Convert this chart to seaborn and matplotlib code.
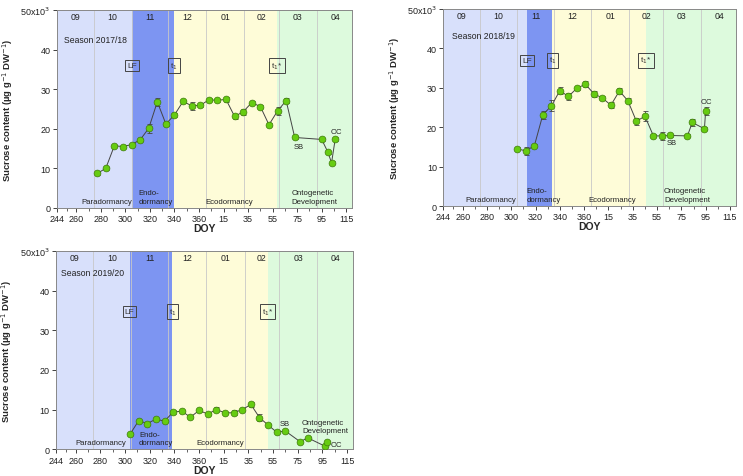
import numpy as np
import pandas as pd
import matplotlib
matplotlib.use('Agg')
import matplotlib.pyplot as plt
import seaborn as sns

sns.set_style('ticks')
plt.rcParams['font.family'] = ['Liberation Sans', 'DejaVu Sans']

# day axis runs on from DOY 365 into the next year (DOY 15 -> 380)
tick_pos = [244, 260, 280, 300, 320, 340, 360, 380, 400, 420, 440, 460, 480]
tick_lab = ['244', '260', '280', '300', '320', '340', '360', '15', '35', '55', '75', '95', '115']
month_start = [244, 274, 305, 335, 366, 397, 425, 456, 486]
month_lab = ['09', '10', '11', '12', '01', '02', '03', '04']

# season 2017/18
doy_1718 = [277, 284, 291, 298, 305, 312, 319, 326, 333, 340, 347, 354, 361, 368, 375, 382,
            389, 396, 403, 410, 417, 424, 431, 438, 460, 465, 468, 471]
suc_1718 = [8.7, 10.0, 15.7, 15.5, 16.0, 17.2, 20.1, 26.8, 21.2, 23.5, 26.9, 25.8, 25.9, 27.3,
            27.2, 27.4, 23.1, 24.3, 26.6, 25.6, 21.0, 24.5, 27.1, 17.8, 17.3, 14.1, 11.4, 17.4]
err_1718 = [0.3, 0.3, 0.3, 0.3, 0.3, 0.3, 1.2, 1.0, 0.4, 0.6, 0.4, 1.0, 0.4, 0.4, 0.4, 0.6,
            0.6, 0.8, 0.4, 0.4, 0.4, 1.0, 0.7, 0.4, 0.4, 0.4, 0.4, 0.4]
phase_1718 = [244, 305.5, 339.5, 423.5, 485]

# season 2018/19
doy_1819 = [305, 312, 319, 326, 333, 340, 347, 354, 361, 368, 375, 382, 389, 396, 403, 410,
            417, 424, 431, 445, 449, 459, 460]
suc_1819 = [14.5, 14.0, 15.3, 23.2, 25.4, 29.3, 27.8, 29.9, 30.9, 28.5, 27.4, 25.6, 29.2,
            26.7, 21.5, 22.8, 17.8, 17.8, 17.9, 17.8, 21.2, 19.6, 24.2]
err_1819 = [0.4, 1.0, 0.4, 1.0, 1.4, 0.8, 1.0, 0.5, 0.8, 0.8, 0.4, 0.8, 0.8, 0.6, 0.9, 1.3,
            0.4, 1.0, 0.4, 0.4, 0.8, 0.4, 1.0]
phase_1819 = [244, 312.8, 333.4, 411, 485]

# season 2019/20
doy_1920 = [304, 311, 318, 325, 332, 339, 346, 353, 360, 367, 374, 381, 388, 395, 402, 409,
            416, 423, 430, 442, 448, 462, 464]
suc_1920 = [3.8, 7.2, 6.5, 7.6, 7.1, 9.4, 9.6, 8.1, 9.8, 8.9, 10.0, 9.2, 9.2, 10.0, 11.3,
            8.0, 6.1, 4.3, 4.6, 1.9, 2.9, 0.8, 1.8]
err_1920 = [0.3, 0.3, 0.3, 0.3, 0.3, 0.4, 0.3, 0.3, 0.3, 0.3, 0.6, 0.3, 0.6, 0.3, 0.6,
            0.8, 0.3, 0.3, 0.3, 0.3, 0.3, 0.3, 0.3]
phase_1920 = [244, 303.7, 338.4, 415.5, 485]

phase_col = ['#d8e0fb', '#7d95f2', '#fefcd8', '#ddfadd']


def draw(ax, doy, suc, err, phase, season, txt):
    for i in range(4):
        ax.axvspan(phase[i], phase[i + 1], color=phase_col[i], lw=0, zorder=0)
    for m in month_start[1:-1]:
        ax.axvline(m, color='#c8c8c8', lw=0.6, zorder=0.5)
    for i, lab in enumerate(month_lab):
        ax.text((month_start[i] + month_start[i + 1]) / 2, 48.3, lab, ha='center', va='center',
                fontsize=6.3, color='#222222')
    df = pd.DataFrame({'doy': doy, 'suc': suc})
    ax.errorbar(doy, suc, yerr=err, fmt='none', ecolor='#444444', elinewidth=0.6, capsize=1.8,
                capthick=0.6, zorder=2)
    sns.lineplot(data=df, x='doy', y='suc', ax=ax, color='#444444', lw=0.7, zorder=3)
    sns.scatterplot(data=df, x='doy', y='suc', ax=ax, color='#66cc11', edgecolor='#3d7a0a',
                    linewidth=0.5, s=24, zorder=4)

    ax.text(txt['season'][0], txt['season'][1], season, fontsize=6.2, va='center', color='#222222')
    for lab, key in [('LF', 'lf'), ('t$_1$', 't1'), ('t$_1$*', 't1s')]:
        ax.text(txt[key][0], txt[key][1], lab, ha='center', va='center', fontsize=6,
                color='#333333',
                bbox=dict(boxstyle='square,pad=0.25', fc='none', ec='#444444', lw=0.7))
    ax.text(txt['para'], 0.8, 'Paradormancy', fontsize=5.6, va='bottom', color='#222222')
    ax.text(txt['endo'], 0.8, 'Endo-\ndormancy', fontsize=5.6, va='bottom', color='#222222',
            linespacing=1.3)
    ax.text(txt['eco'], 0.8, 'Ecodormancy', fontsize=5.6, va='bottom', color='#222222')
    ax.text(txt['onto'][0], txt['onto'][1], 'Ontogenetic\nDevelopment', fontsize=5.6,
            va='bottom', color='#222222', linespacing=1.3)
    ax.text(txt['sb'][0], txt['sb'][1], 'SB', fontsize=5.5, ha='center', va='center',
            color='#222222')
    ax.text(txt['oc'][0], txt['oc'][1], 'OC', fontsize=5.5, ha='center', va='center',
            color='#222222')

    ax.set_xlim(244, 485)
    ax.set_ylim(0, 50)
    ax.set_xticks(tick_pos)
    ax.set_xticklabels(tick_lab, fontsize=6.5)
    ax.set_xticks([252, 270, 290, 310, 330, 350, 370, 390, 410, 430, 450, 470], minor=True)
    ax.set_yticks([0, 10, 20, 30, 40, 50])
    ax.set_yticklabels(['0', '10', '20', '30', '40', '50x10$^3$'], fontsize=6.5)
    ax.tick_params(axis='both', length=3, width=0.6, pad=1.5, colors='#222222')
    ax.tick_params(axis='x', which='minor', length=2, width=0.5)
    ax.set_xlabel('DOY', fontsize=7.5, fontweight='bold', labelpad=0)
    ax.set_ylabel('Sucrose content (µg g$^{-1}$ DW$^{-1}$)', fontsize=6.8, fontweight='bold')
    ax.yaxis.set_label_coords(-0.14, 0.5)
    for sp in ax.spines.values():
        sp.set_color('#888888')
        sp.set_linewidth(0.7)
        sp.set_visible(True)


fig = plt.figure(figsize=(7.43, 4.77), dpi=100)
ax1 = fig.add_axes([0.0763, 0.562, 0.398, 0.415])
ax2 = fig.add_axes([0.5966, 0.566, 0.394, 0.413])
ax3 = fig.add_axes([0.0754, 0.056, 0.400, 0.4157])

draw(ax1, doy_1718, suc_1718, err_1718, phase_1718, 'Season 2017/18',
     dict(season=(250, 42.5), lf=(305.5, 36), t1=(339.5, 36), t1s=(423.5, 36),
          para=264, endo=310.7, eco=365.3, onto=(435.5, 0.8), sb=(441, 15.6), oc=(472, 19.3)))
draw(ax2, doy_1819, suc_1819, err_1819, phase_1819, 'Season 2018/19',
     dict(season=(251, 43.2), lf=(312.8, 37), t1=(333.8, 37), t1s=(411, 37),
          para=262, endo=312.8, eco=363.6, onto=(425.8, 0.8), sb=(432, 16.0), oc=(460.5, 26.6)))
draw(ax3, doy_1920, suc_1920, err_1920, phase_1920, 'Season 2019/20',
     dict(season=(248, 44.6), lf=(303.5, 34.7), t1=(338.4, 34.8), t1s=(415.5, 34.8),
          para=259.6, endo=311.2, eco=357.7, onto=(443.5, 3.8), sb=(429.5, 6.6), oc=(471, 1.2)))

fig.savefig('out.png', dpi=100)
